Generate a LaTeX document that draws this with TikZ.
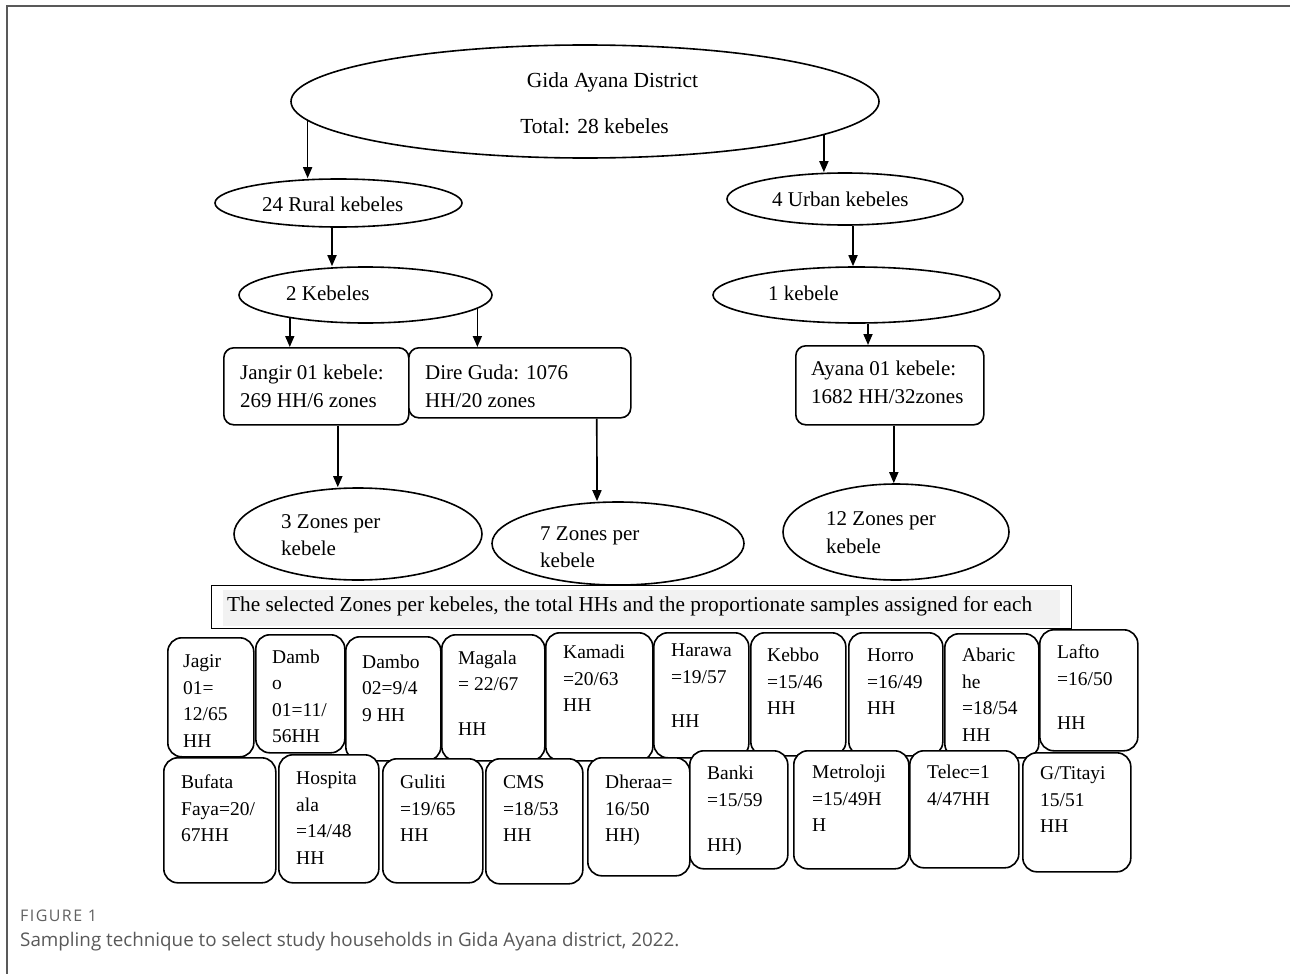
\documentclass[tikz,border=0pt]{standalone}
\usepackage{fontspec}
\setmainfont{Liberation Serif}
\newfontfamily\capfont{Open Sans}
\newfontfamily\capfontsp[LetterSpace=9]{Open Sans}
\usetikzlibrary{shapes.geometric,arrows.meta}
\newcommand{\mlines}[1]{\begin{tabular}[t]{@{}l@{}}#1\end{tabular}}
\begin{document}
\begin{tikzpicture}[x=1pt,y=-1pt,
  ell/.style={ellipse,draw,line width=1.6pt,inner sep=0pt},
  rbox/.style={rectangle,draw,line width=1.6pt,rounded corners=10pt,fill=white,inner sep=0pt,anchor=north west},
  sbox/.style={rbox,rounded corners=14pt},
  arr/.style={line width=1.7pt,-{Triangle[length=11pt,width=9pt]}},
  bigtxt/.style={inner sep=0pt,anchor=base west,font=\fontsize{21}{28}\selectfont},
  midtxt/.style={inner sep=0pt,anchor=base west,font=\fontsize{21}{27}\selectfont},
  smtxt/.style={inner sep=0pt,anchor=base west,font=\fontsize{19.5}{26.5}\selectfont},
]
\fill[white] (0,0) rectangle (1290,974);
\useasboundingbox (0,0) rectangle (1290,974);
\draw[black!65,line width=2pt] (6.5,974) -- (6.5,6.5) -- (1290,6.5);

% ellipses
\node[ell,minimum width=588pt,minimum height=113pt] (top) at (585,101.5) {};
\node[ell,minimum width=247pt,minimum height=48pt] (rural) at (338.5,203) {};
\node[ell,minimum width=253pt,minimum height=56pt] (k2) at (365.5,295) {};
\node[ell,minimum width=236pt,minimum height=52pt] (urban) at (845,199) {};
\node[ell,minimum width=287pt,minimum height=56pt] (k1) at (856.5,295) {};
\node[ell,minimum width=248pt,minimum height=92pt] (z3) at (358,534) {};
\node[ell,minimum width=252pt,minimum height=83pt] (z7) at (618,543.5) {};
\node[ell,minimum width=226pt,minimum height=96pt] (z12) at (896,532) {};

% big boxes
\node[rbox,minimum width=185pt,minimum height=77pt] (jangir) at (223,347) {};
\node[rbox,minimum width=222pt,minimum height=70pt] (dire) at (408,347) {};
\node[rbox,minimum width=188pt,minimum height=79pt] (ayana) at (795,345) {};

% texts
\node[inner sep=0pt,anchor=base,font=\fontsize{21.5}{28}\selectfont] (ttop1) at (612.5,87) {Gida Ayana District};
\node[inner sep=0pt,anchor=base,font=\fontsize{21.5}{28}\selectfont] (ttop2) at (594.5,133) {Total: 28 kebeles};
\node[bigtxt] (trural) at (262,211) {24 Rural kebeles};
\node[bigtxt] (tk2) at (286,300) {2 Kebeles};
\node[bigtxt] (turban) at (772,206) {4 Urban kebeles};
\node[bigtxt] (tk1) at (768,300) {1 kebele};
\node[bigtxt] (tjangir) at (240,379) {\mlines{Jangir 01 kebele:\\269 HH/6 zones}};
\node[bigtxt] (tdire) at (425,379) {\mlines{Dire Guda: 1076\\HH/20 zones}};
\node[bigtxt] (tayana) at (811,375) {\mlines{Ayana 01 kebele:\\1682 HH/32zones}};
\node[midtxt] (tz3) at (281,528) {\mlines{3 Zones per\\kebele}};
\node[midtxt] (tz7) at (540,540) {\mlines{7 Zones per\\kebele}};
\node[bigtxt] (tz12) at (826,525) {\mlines{12 Zones per\\kebele}};

% arrows
\draw[arr] (top.184) -- (top.184 |- rural.north);
\draw[arr] (top.-8.3) -- (top.-8.3 |- urban.north);
\draw[arr] ([xshift=-6.5pt]rural.south) -- ([xshift=-6.5pt]rural.south |- k2.north);
\draw[arr] (k2.197) -- (k2.197 |- jangir.north);
\draw[arr] (k2.-7) -- (k2.-7 |- dire.north);
\draw[arr] ([xshift=21.5pt]jangir.south) -- ([xshift=21.5pt]jangir.south |- z3.north);
\draw[arr] ([xshift=77pt]dire.south) -- ([xshift=-21pt]z7.north);
\draw[arr] ([xshift=8pt]urban.south) -- ([xshift=8pt]urban.south |- k1.north);
\draw[arr] ([xshift=11.5pt]k1.south) -- ([xshift=11.5pt]k1.south |- ayana.north);
\draw[arr] ([xshift=4pt]ayana.south) -- ([xshift=4pt]ayana.south |- z12.north);

% banner
\node[draw,line width=1.3pt,minimum width=860pt,minimum height=43pt,anchor=north west,inner sep=0pt] (banner) at (211,585) {};
\node[fill=black!5,minimum width=837pt,minimum height=36pt,anchor=north west,inner sep=0pt] (bannerbg) at (223,590) {};
\node[inner sep=0pt,anchor=base west,font=\fontsize{21.3}{26}\selectfont] (tbanner) at (227,611) {The selected Zones per kebeles, the total HHs and the proportionate samples assigned for each};

% top row boxes
\node[sbox,minimum width=86pt,minimum height=119pt] (b1) at (167,637) {};
\node[sbox,minimum width=89pt,minimum height=118pt] (b2) at (255,634) {};
\node[sbox,minimum width=95pt,minimum height=124pt] (b3) at (345,636) {};
\node[sbox,minimum width=103pt,minimum height=126pt] (b4) at (441,634) {};
\node[sbox,minimum width=107pt,minimum height=128pt] (b5) at (545,632) {};
\node[sbox,minimum width=95pt,minimum height=125pt] (b6) at (653,632) {};
\node[sbox,minimum width=95pt,minimum height=123pt] (b7) at (750,632) {};
\node[sbox,minimum width=94pt,minimum height=123pt] (b8) at (848,632) {};
\node[sbox,minimum width=94pt,minimum height=124pt] (b9) at (944,633) {};
\node[sbox,minimum width=98pt,minimum height=121pt] (b10) at (1039,629) {};
\node[smtxt] (tb1) at (183,667.5) {\mlines{Jagir\\01=\\12/65\\HH}};
\node[smtxt] (tb2) at (272,663) {\mlines{Damb\\o\\01=11/\\56HH}};
\node[smtxt] (tb3) at (362,668) {\mlines{Dambo\\02=9/4\\9 HH}};
\node[smtxt] (tb4) at (458,664) {\mlines{Magala\\= 22/67\\[18pt]HH}};
\node[smtxt] (tb5) at (563,658.5) {\mlines{Kamadi\\=20/63\\HH}};
\node[smtxt] (tb6) at (671,656.5) {\mlines{Harawa\\=19/57\\[18pt]HH}};
\node[smtxt] (tb7) at (767,661.5) {\mlines{Kebbo\\=15/46\\HH}};
\node[smtxt] (tb8) at (867,661.5) {\mlines{Horro\\=16/49\\HH}};
\node[smtxt] (tb9) at (962,661.5) {\mlines{Abaric\\he\\=18/54\\HH}};
\node[smtxt] (tb10) at (1057,658.5) {\mlines{Lafto\\=16/50\\[18pt]HH}};

% bottom row boxes
\node[sbox,minimum width=112pt,minimum height=125pt] (c1) at (163,757) {};
\node[sbox,minimum width=100pt,minimum height=128pt] (c2) at (278,754) {};
\node[sbox,minimum width=100pt,minimum height=124pt] (c3) at (382,758) {};
\node[sbox,minimum width=97pt,minimum height=125pt] (c4) at (485,758) {};
\node[sbox,minimum width=102pt,minimum height=118pt] (c5) at (587,757) {};
\node[sbox,minimum width=98pt,minimum height=118pt] (c6) at (689,750) {};
\node[sbox,minimum width=115pt,minimum height=118pt] (c7) at (793,750) {};
\node[sbox,minimum width=109pt,minimum height=117pt] (c8) at (909,750) {};
\node[sbox,minimum width=108pt,minimum height=119pt] (c9) at (1022,752) {};
\node[smtxt] (tc1) at (181,788.5) {\mlines{Bufata\\Faya=20/\\67HH}};
\node[smtxt] (tc2) at (296,784.5) {\mlines{Hospita\\ala\\=14/48\\HH}};
\node[smtxt] (tc3) at (400,788.5) {\mlines{Guliti\\=19/65\\HH}};
\node[smtxt] (tc4) at (503,788.5) {\mlines{CMS\\=18/53\\HH}};
\node[smtxt] (tc5) at (605,788.5) {\mlines{Dheraa=\\16/50\\HH)}};
\node[smtxt] (tc6) at (707,779.5) {\mlines{Banki\\=15/59\\[19pt]HH)}};
\node[smtxt] (tc7) at (812,778.5) {\mlines{Metroloji\\=15/49H\\H}};
\node[smtxt] (tc8) at (927,778.5) {\mlines{Telec=1\\4/47HH}};
\node[smtxt] (tc9) at (1040,779.5) {\mlines{G/Titayi\\15/51\\HH}};

% caption
\node[inner sep=0pt,anchor=base west,text=black!62,font=\capfontsp\fontsize{16}{19}\selectfont] (figlabel) at (20,921) {FIGURE 1};
\node[inner sep=0pt,anchor=base west,text=black!65,font=\capfont\fontsize{18.8}{23}\selectfont] (figcap) at (20,946) {Sampling technique to select study households in Gida Ayana district, 2022.};
\end{tikzpicture}
\end{document}
